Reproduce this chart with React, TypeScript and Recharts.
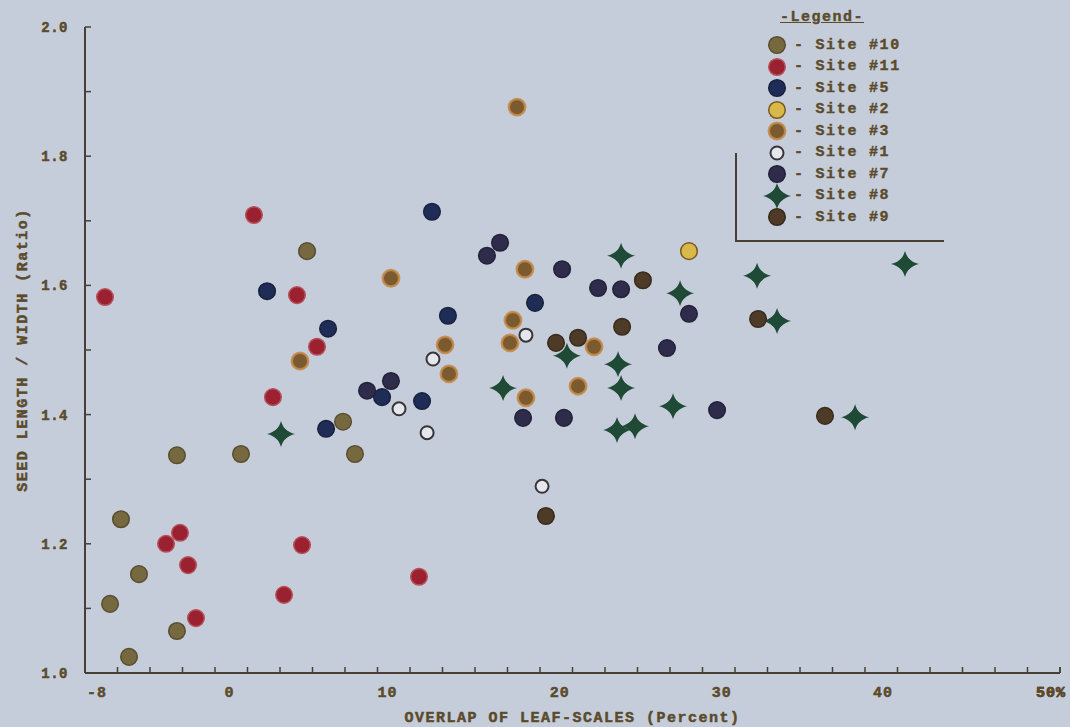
import React from 'react';
import { ScatterChart, Scatter, XAxis, YAxis, Legend } from 'recharts';

// ---- data: [overlap of leaf-scales (%), seed length / width ratio] ----
const site10: number[][] = [
  [-6.51, 1.107], [-5.86, 1.238], [-5.38, 1.025], [-4.79, 1.153], [-2.53, 1.337],
  [-2.53, 1.065], [1.28, 1.339], [5.21, 1.653], [7.35, 1.389], [8.06, 1.339],
];
const site11: number[][] = [
  [-6.81, 1.582], [2.05, 1.709], [4.61, 1.585], [5.8, 1.505], [3.18, 1.427],
  [4.91, 1.198], [-3.18, 1.2], [-2.35, 1.217], [-1.87, 1.167], [-1.4, 1.085],
  [3.84, 1.121], [11.87, 1.149],
];
const site5: number[][] = [
  [2.83, 1.591], [6.46, 1.533], [6.34, 1.378], [12.64, 1.714], [18.77, 1.573],
  [13.59, 1.553], [9.67, 1.427], [12.05, 1.421],
];
const site2: number[][] = [[27.93, 1.653]];
const site3: number[][] = [
  [17.7, 1.876], [4.79, 1.483], [10.2, 1.611], [13.42, 1.508], [13.65, 1.463],
  [17.28, 1.511], [17.46, 1.546], [18.17, 1.625], [22.28, 1.505], [21.33, 1.444],
  [18.23, 1.426],
];
const site1: number[][] = [
  [12.7, 1.486], [18.23, 1.523], [10.68, 1.409], [12.35, 1.372], [19.19, 1.289],
];
const site7: number[][] = [
  [16.69, 1.666], [15.91, 1.646], [20.38, 1.625], [22.52, 1.596], [23.89, 1.594],
  [26.62, 1.503], [27.93, 1.556], [29.6, 1.407], [18.06, 1.395], [20.49, 1.395],
  [8.78, 1.437], [10.2, 1.452],
];
const site8: number[][] = [
  [3.66, 1.37], [16.87, 1.441], [20.67, 1.491], [23.89, 1.646], [23.71, 1.478],
  [23.89, 1.441], [23.65, 1.376], [24.72, 1.382], [26.98, 1.413], [27.4, 1.588],
  [31.98, 1.615], [33.17, 1.545], [37.81, 1.396], [40.78, 1.633],
];
const site9: number[][] = [
  [19.42, 1.243], [36.02, 1.398], [32.04, 1.548], [20.02, 1.511], [21.33, 1.519],
  [25.19, 1.608], [23.95, 1.536],
];

const X_LABEL_TICKS = [-8, 0, 10, 20, 30, 40, 50];
const X_LABEL_TEXT = ['-8', '0', '10', '20', '30', '40', '50%'];
const X_DOMAIN = [-8, 50];
const X_MINOR_COUNT = 30;
const Y_TICKS = [1.0, 1.1, 1.2, 1.3, 1.4, 1.5, 1.6, 1.7, 1.8, 1.9, 2.0];
const Y_LABEL_TICKS = [1.0, 1.2, 1.4, 1.6, 1.8, 2.0];

// ---- styles ----
const BG = '#c5cdda';
const INK = '#5b4b2b';
const AXIS = '#4a3f35';
const FONT = '"Liberation Mono", "DejaVu Sans Mono", monospace';
const X_LABEL_NUDGE = [12, 10, 0, 4, -2, -9, -9];

type Kind = 'dot' | 'halo' | 'open' | 'star';
interface SeriesDef { name: string; pts: number[][]; kind: Kind; fill: string; stroke: string; }

const SERIES: SeriesDef[] = [
  { name: 'Site #10', pts: site10, kind: 'dot', fill: '#76683f', stroke: '#5a4e31' },
  { name: 'Site #11', pts: site11, kind: 'dot', fill: '#9a2130', stroke: '#b8505a' },
  { name: 'Site #5', pts: site5, kind: 'dot', fill: '#1f2c55', stroke: '#18223f' },
  { name: 'Site #2', pts: site2, kind: 'dot', fill: '#d8b848', stroke: '#7a5a22' },
  { name: 'Site #3', pts: site3, kind: 'halo', fill: '#7a5a2e', stroke: '#c48a48' },
  { name: 'Site #1', pts: site1, kind: 'open', fill: '#e4e8ee', stroke: '#3a3437' },
  { name: 'Site #7', pts: site7, kind: 'dot', fill: '#2f2c4b', stroke: '#24213a' },
  { name: 'Site #8', pts: site8, kind: 'star', fill: '#1f4a36', stroke: '#1f4a36' },
  { name: 'Site #9', pts: site9, kind: 'dot', fill: '#4d3a27', stroke: '#3a2b1d' },
];

const Marker = ({ cx, cy, def }: { cx: number; cy: number; def: SeriesDef }) => {
  if (def.kind === 'star') {
    const d = `M0,-13 C2,-6 6,-2 14,0 C6,2 2,6 0,13 C-2,6 -6,2 -14,0 C-6,-2 -2,-6 0,-13 Z`;
    return (
      <g transform={`translate(${cx},${cy})`}>
        <path d={d} fill={def.fill} />
        <circle r={6.5} fill={def.fill} />
      </g>
    );
  }
  if (def.kind === 'open') {
    return <circle cx={cx} cy={cy} r={6.5} fill={def.fill} stroke={def.stroke} strokeWidth={2} />;
  }
  if (def.kind === 'halo') {
    return <circle cx={cx} cy={cy} r={8.2} fill={def.fill} stroke={def.stroke} strokeWidth={2.5} strokeOpacity={0.85} />;
  }
  return <circle cx={cx} cy={cy} r={8.3} fill={def.fill} stroke={def.stroke} strokeWidth={1.5} />;
};

const minorStep = (X_DOMAIN[1] - X_DOMAIN[0]) / X_MINOR_COUNT;
const X_MINOR = Array.from({ length: X_MINOR_COUNT }, (_, i) => X_DOMAIN[0] + (i + 1) * minorStep);
const X_ALL_TICKS = [...X_MINOR, ...X_LABEL_TICKS].sort((a, b) => a - b);

const textStyle = { fill: INK, stroke: INK, strokeWidth: 0.5, fontFamily: FONT, fontWeight: 'bold' as const };

const XTick = (props: any) => {
  const { x, y, payload } = props;
  const v = payload.value;
  const labelIdx = X_LABEL_TICKS.findIndex((l) => Math.abs(l - v) < 1e-6);
  const isMinor = X_MINOR.some((m) => Math.abs(m - v) < 1e-6);
  return (
    <g>
      {isMinor && <line x1={x} x2={x} y1={y} y2={y - 6} stroke={AXIS} strokeWidth={1.5} />}
      {labelIdx >= 0 && (
        <text x={x + X_LABEL_NUDGE[labelIdx]} y={y + 24} textAnchor="middle" {...textStyle} fontSize={15} letterSpacing={1}>
          {X_LABEL_TEXT[labelIdx]}
        </text>
      )}
    </g>
  );
};

const YTick = (props: any) => {
  const { x, y, payload } = props;
  const v = payload.value;
  const isLabel = Y_LABEL_TICKS.some((l) => Math.abs(l - v) < 1e-6);
  return (
    <g>
      <line x1={x} x2={x + 6} y1={y} y2={y} stroke={AXIS} strokeWidth={1.5} />
      {isLabel && (
        <text x={x - 17} y={y + 5} textAnchor="end" {...textStyle} fontSize={14} letterSpacing={0.5}>
          {v.toFixed(1)}
        </text>
      )}
    </g>
  );
};

const LegendBox = () => {
  return (
    <div style={{ position: 'relative', width: 240, height: 250, fontFamily: FONT, fontWeight: 'bold', color: INK, WebkitTextStroke: `0.4px ${INK}` }}>
      <div style={{ position: 'absolute', left: 50, top: 8, fontSize: 15, letterSpacing: 1.5, textDecoration: 'underline', lineHeight: '20px' }}>
        -Legend-
      </div>
      {SERIES.map((def, i) => (
        <div key={def.name} style={{ position: 'absolute', left: 30, top: 34 + i * 21.5, height: 22, display: 'flex', alignItems: 'center' }}>
          <svg width={34} height={28} style={{ overflow: 'visible' }}>
            <Marker cx={17} cy={14} def={def} />
          </svg>
          <span style={{ fontSize: 15, letterSpacing: 1.7, whiteSpace: 'pre' }}>{'- ' + def.name}</span>
        </div>
      ))}
      <div style={{ position: 'absolute', left: 5, top: 153, width: 2, height: 89, background: AXIS }} />
      <div style={{ position: 'absolute', left: 5, top: 240, width: 209, height: 2, background: AXIS }} />
    </div>
  );
};

export default function App() {
  return (
    <div style={{ position: 'absolute', left: 0, top: 0, width: 1070, height: 727, background: BG }}>
      <ScatterChart width={1070} height={727} margin={{ top: 27, right: 10, bottom: 0, left: 0 }}>
        <XAxis
          type="number"
          dataKey="x"
          domain={X_DOMAIN}
          ticks={X_ALL_TICKS}
          interval={0}
          tickSize={0}
          tickMargin={0}
          tickLine={false}
          tick={<XTick />}
          height={54}
          axisLine={{ stroke: AXIS, strokeWidth: 2 }}
          allowDataOverflow
          label={{
            value: 'OVERLAP OF LEAF-SCALES (Percent)',
            position: 'insideBottom',
            offset: 5,
            style: { ...textStyle, fontSize: 15, letterSpacing: 1.5, textAnchor: 'middle' },
          }}
        />
        <YAxis
          type="number"
          dataKey="y"
          domain={[1.0, 2.0]}
          ticks={Y_TICKS}
          interval={0}
          tickSize={0}
          tickMargin={0}
          tickLine={false}
          tick={<YTick />}
          width={85}
          axisLine={{ stroke: AXIS, strokeWidth: 2 }}
          allowDataOverflow
          label={{
            value: 'SEED LENGTH / WIDTH (Ratio)',
            angle: -90,
            position: 'insideLeft',
            offset: 22,
            style: { ...textStyle, fontSize: 15, letterSpacing: 1.5, textAnchor: 'middle' },
          }}
        />
        <Legend
          layout="vertical"
          align="center"
          verticalAlign="middle"
          wrapperStyle={{ left: 730, top: 0, width: 240, height: 250 }}
          content={<LegendBox />}
        />
        {SERIES.map((s) => (
          <Scatter
            key={s.name}
            name={s.name}
            data={s.pts.map(([x, y]) => ({ x, y }))}
            fill={s.fill}
            isAnimationActive={false}
            shape={(p: any) => <Marker cx={p.cx} cy={p.cy} def={s} />}
          />
        ))}
      </ScatterChart>
    </div>
  );
}
